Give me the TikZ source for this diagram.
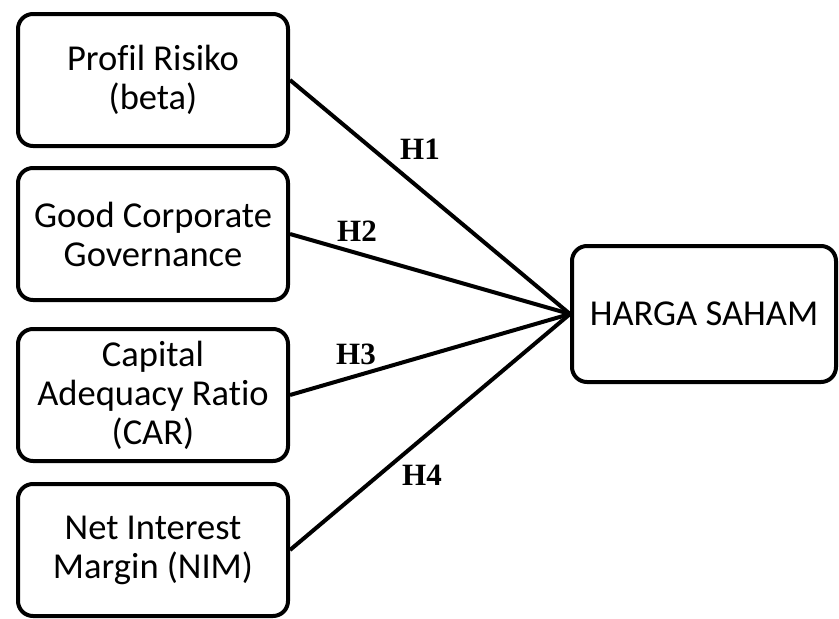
\documentclass[tikz,border=0pt]{standalone}
\usepackage{fontspec}
\setmainfont[Ligatures=NoCommon]{Carlito}
\newfontfamily\hlabelfont{Liberation Serif}
\begin{document}
\begin{tikzpicture}[x=1pt,y=-1pt,
  varbox/.style={draw=black, line width=4pt, rounded corners=15pt,
    minimum width=270pt, minimum height=132pt, inner sep=0pt,
    align=center, font=\fontsize{36.5}{39}\selectfont},
  link/.style={draw=black, line width=4pt},
  hyp/.style={font=\hlabelfont\bfseries\fontsize{31}{31}\selectfont, inner sep=0pt}]
\useasboundingbox (0,0) rectangle (839,619);
% independent variables
\node[varbox] (risk) at (153,80) {Profil Risiko\\(beta)};
\node[varbox] (gcg)  at (153,234) {Good Corporate\\Governance};
\node[varbox] (car)  at (153,395) {Capital\\Adequacy Ratio\\(CAR)};
\node[varbox] (nim)  at (153,550) {Net Interest\\Margin (NIM)};
% dependent variable
\node[varbox, minimum width=264pt, minimum height=136pt] (price) at (704,314) {HARGA SAHAM};
% hypothesised paths
\draw[link] (risk.east) -- (price.west);
\draw[link] (gcg.east) -- (price.west);
\draw[link] (car.east) -- (price.west);
\draw[link] (nim.east) -- (price.west);
\node[hyp] (h1) at (420,149) {H1};
\node[hyp] (h2) at (357,231) {H2};
\node[hyp] (h3) at (356,354) {H3};
\node[hyp] (h4) at (422,475) {H4};
\end{tikzpicture}
\end{document}
